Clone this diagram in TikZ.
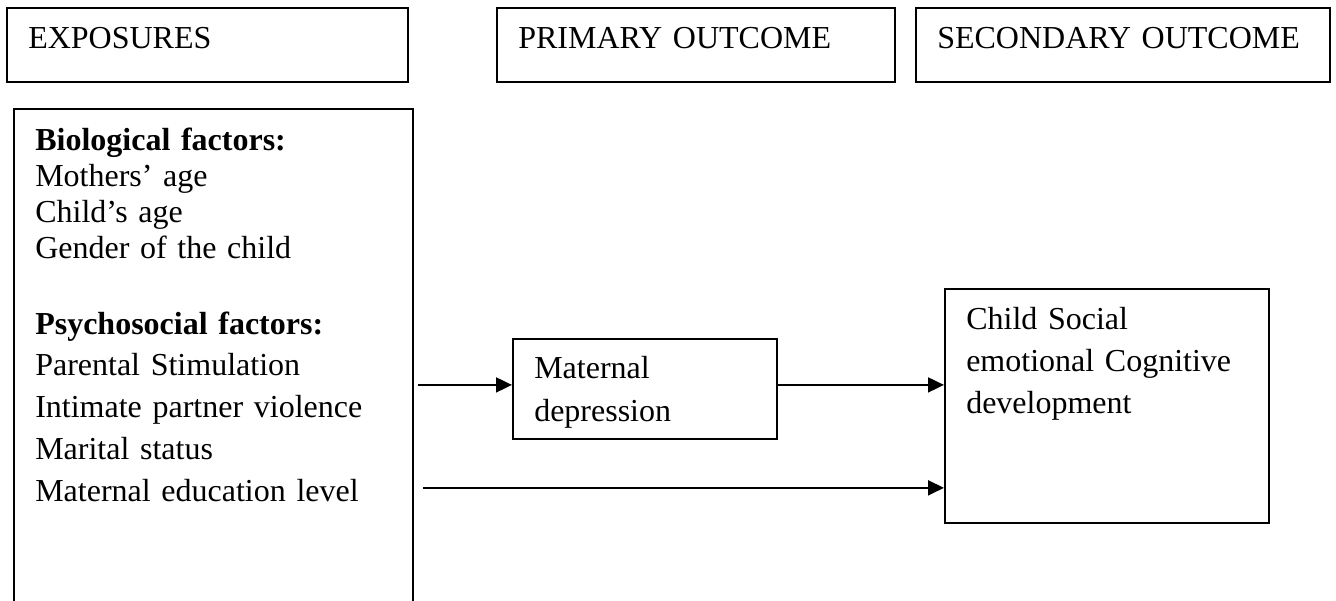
\documentclass[tikz,border=0pt]{standalone}
\usepackage{fontspec}
\setmainfont{Liberation Serif}
\usetikzlibrary{arrows.meta}

\tikzset{
  box/.style={draw, line width=0.7pt, anchor=north west, align=left,
    inner xsep=8pt, inner ysep=0pt, text height=15.3pt},
  arr/.style={line width=0.8pt, -{Triangle[length=6pt, width=5.6pt]}},
}

\begin{document}
\begin{tikzpicture}[x=0.375pt, y=-0.375pt, font=\fontsize{12}{13.4}\selectfont]
    \useasboundingbox (0,0) rectangle (1336,601);
    \clip (0,0) rectangle (1336,601);

    % headings
    \node[box, text width=134.4pt, text depth=12.45pt] (expo) at (6,7) {EXPOSURES};
    \node[box, text width=133.25pt, text depth=12.45pt] (prim) at (496,7) {PRIMARY OUTCOME};
    \node[box, text width=139.25pt, text depth=12.45pt] (sec) at (915,7) {SECONDARY OUTCOME};

    % exposures list
    \node[box, text width=133.6pt, text height=15.75pt, text depth=184pt] (factors) at (13,108)
        {\textbf{Biological factors:}\\
         Mothers’ age\\
         Child’s age\\
         Gender of the child\\[15.1pt]
         \textbf{Psychosocial factors:}\\[2.25pt]
         Parental Stimulation\\[2.25pt]
         Intimate partner violence\\[2.25pt]
         Marital status\\[2.25pt]
         Maternal education level};

    \node[box, text width=83pt, text height=14.8pt, text depth=22.7pt,
          font=\fontsize{12}{16.1}\selectfont] (maternal) at (512,338)
        {Maternal\\ depression};

    \node[box, text width=105.5pt, text depth=72.45pt,
          font=\fontsize{12}{15.75}\selectfont] (child) at (944,288)
        {Child Social\\ emotional Cognitive\\ development};

    \coordinate (midin) at ([yshift=1.5pt]maternal.west);
    \coordinate (lowin) at ([yshift=13.5pt]child.south west);

    \draw[arr] ([xshift=1.5pt]factors.east |- midin) -- (midin);
    \draw[arr] ([yshift=1.5pt]maternal.east) -- ([yshift=1.5pt]maternal.east -| child.west);
    \draw[arr] ([xshift=3.4pt]factors.east |- lowin) -- (lowin);
\end{tikzpicture}
\end{document}
